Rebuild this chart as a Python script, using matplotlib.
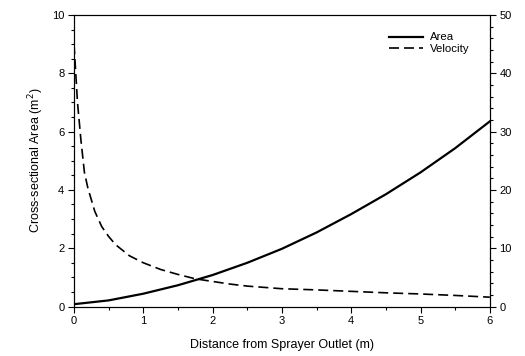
import matplotlib.pyplot as plt
from matplotlib.ticker import MultipleLocator

plt.rcParams['font.family'] = ['Liberation Sans', 'DejaVu Sans']

# Cross-sectional area (m^2)
area_x = [0, 0.5, 1.0, 1.5, 2.0, 2.5, 3.0, 3.5, 4.0, 4.5, 5.0, 5.5, 6.0]
area = [0.08, 0.21, 0.44, 0.73, 1.08, 1.5, 1.98, 2.54, 3.17, 3.85, 4.6, 5.43, 6.35]

# Velocity
vel_x = [0, 0.05, 0.1, 0.15, 0.2, 0.3, 0.4, 0.5, 0.6, 0.8, 1.0, 1.25, 1.5,
         1.75, 2.0, 2.25, 2.5, 3.0, 3.5, 4.0, 4.5, 5.0, 5.5, 6.0]
velocity = [45, 35, 28.5, 23, 20.3, 16.3, 13.7, 12, 10.6, 8.7, 7.5, 6.35, 5.5,
            4.75, 4.3, 3.85, 3.5, 3.05, 2.85, 2.6, 2.35, 2.15, 1.9, 1.6]

fig = plt.figure(figsize=(5.25, 3.56), dpi=100)
ax = fig.add_axes([0.141, 0.139, 0.792, 0.819])
ax2 = ax.twinx()

la, = ax.plot(area_x, area, color='black', lw=1.6, label='Area')
lv, = ax2.plot(vel_x, velocity, color='black', lw=1.2, ls=(0, (6, 3)), label='Velocity')

ax.set_xlim(0, 6)
ax.set_ylim(0, 10)
ax2.set_ylim(0, 50)

ax.xaxis.set_major_locator(MultipleLocator(1))
ax.xaxis.set_minor_locator(MultipleLocator(0.5))
ax.yaxis.set_major_locator(MultipleLocator(2))
ax.yaxis.set_minor_locator(MultipleLocator(0.5))
ax2.yaxis.set_major_locator(MultipleLocator(10))
ax2.yaxis.set_minor_locator(MultipleLocator(2))

for a in (ax, ax2):
    a.tick_params(which='major', direction='out', length=4, width=0.8, labelsize=8, pad=3)
    a.tick_params(which='minor', direction='out', length=2.5, width=0.8)
ax.tick_params(which='both', top=False, right=False)

ax.set_xlabel('Distance from Sprayer Outlet (m)', fontsize=9, labelpad=9)
ax.set_ylabel('Cross-sectional Area (m$^2$)', fontsize=9, labelpad=4)

ax.legend(handles=[la, lv], loc='upper right', bbox_to_anchor=(0.975, 0.975),
          frameon=False, fontsize=8.2, handlelength=3.0, handletextpad=0.6,
          labelspacing=0.15)

fig.savefig('out.png', dpi=100)
